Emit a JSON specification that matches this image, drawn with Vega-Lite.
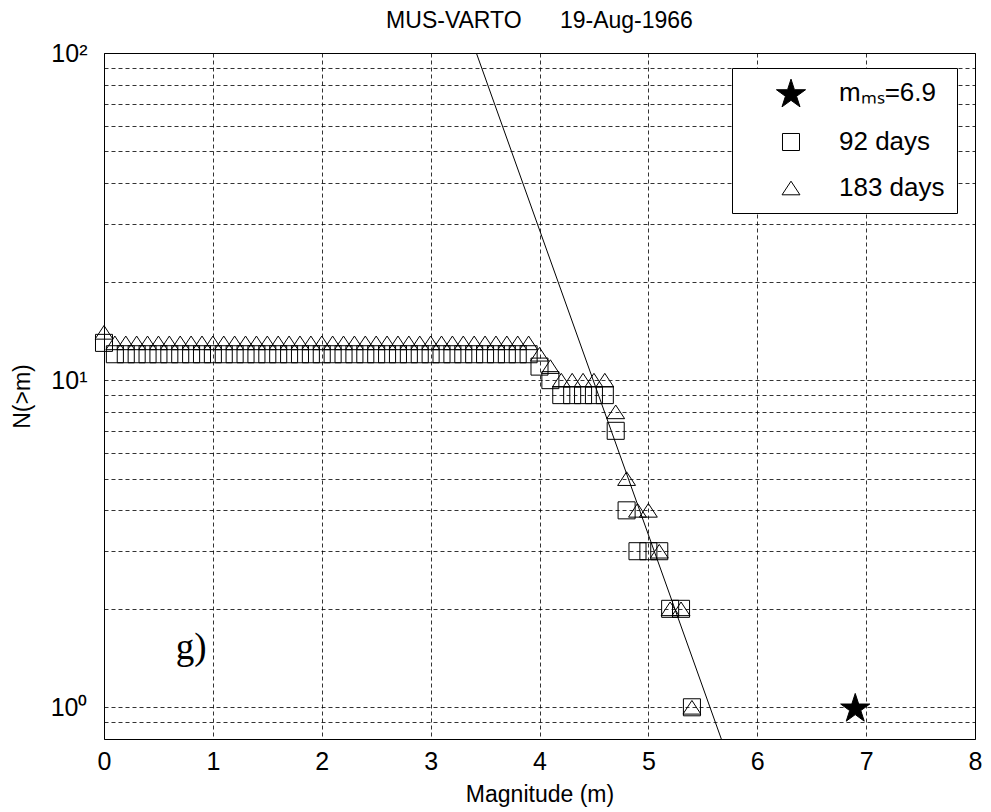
{
  "$schema": "https://vega.github.io/schema/vega-lite/v6.json",
  "width": 871,
  "height": 686,
  "autosize": {"type": "none"},
  "padding": {"left": 104, "top": 53, "right": 16, "bottom": 73},
  "background": "white",
  "config": {
    "font": "Liberation Sans",
    "view": {"stroke": "black", "strokeWidth": 1},
    "axis": {
      "labelFont": "Liberation Sans",
      "titleFont": "Liberation Sans",
      "labelFontSize": 25,
      "titleFontSize": 23,
      "titleFontWeight": "normal",
      "labelColor": "black",
      "titleColor": "black",
      "domain": false,
      "ticks": false,
      "gridColor": "black",
      "gridDash": [4, 3],
      "gridOpacity": 0.8,
      "gridWidth": 1
    },
    "legend": {
      "labelFont": "Liberation Sans",
      "labelFontSize": 26,
      "labelColor": "black",
      "strokeColor": "black",
      "strokeWidth": 1,
      "fillColor": "white",
      "padding": 12,
      "rowPadding": 20,
      "symbolOffset": 34,
      "labelOffset": 35,
      "symbolSize": 290,
      "symbolStrokeColor": "black",
      "symbolStrokeWidth": 1,
      "orient": "none",
      "legendX": 628,
      "legendY": 15
    }
  },
  "title": {
    "text": "MUS-VARTO\u00a0\u00a0\u00a0\u00a0\u00a0\u00a019-Aug-1966",
    "font": "Liberation Sans",
    "fontSize": 23,
    "fontWeight": "normal",
    "color": "black",
    "offset": 8
  },
  "datasets": {
    "fit": [
      {"m": 3.42, "n": 100},
      {"m": 5.67, "n": 0.8}
    ],
    "panel": [
      {"m": 0.8, "n": 1.52, "label": "g)"}
    ],
    "counts": [
      {"series": "mainshock", "m": 6.9, "n": 1},
      {"series": "92 days", "m": 0.0, "n": 13},
      {"series": "92 days", "m": 0.1, "n": 12},
      {"series": "92 days", "m": 0.2, "n": 12},
      {"series": "92 days", "m": 0.3, "n": 12},
      {"series": "92 days", "m": 0.4, "n": 12},
      {"series": "92 days", "m": 0.5, "n": 12},
      {"series": "92 days", "m": 0.6, "n": 12},
      {"series": "92 days", "m": 0.7, "n": 12},
      {"series": "92 days", "m": 0.8, "n": 12},
      {"series": "92 days", "m": 0.9, "n": 12},
      {"series": "92 days", "m": 1.0, "n": 12},
      {"series": "92 days", "m": 1.1, "n": 12},
      {"series": "92 days", "m": 1.2, "n": 12},
      {"series": "92 days", "m": 1.3, "n": 12},
      {"series": "92 days", "m": 1.4, "n": 12},
      {"series": "92 days", "m": 1.5, "n": 12},
      {"series": "92 days", "m": 1.6, "n": 12},
      {"series": "92 days", "m": 1.7, "n": 12},
      {"series": "92 days", "m": 1.8, "n": 12},
      {"series": "92 days", "m": 1.9, "n": 12},
      {"series": "92 days", "m": 2.0, "n": 12},
      {"series": "92 days", "m": 2.1, "n": 12},
      {"series": "92 days", "m": 2.2, "n": 12},
      {"series": "92 days", "m": 2.3, "n": 12},
      {"series": "92 days", "m": 2.4, "n": 12},
      {"series": "92 days", "m": 2.5, "n": 12},
      {"series": "92 days", "m": 2.6, "n": 12},
      {"series": "92 days", "m": 2.7, "n": 12},
      {"series": "92 days", "m": 2.8, "n": 12},
      {"series": "92 days", "m": 2.9, "n": 12},
      {"series": "92 days", "m": 3.0, "n": 12},
      {"series": "92 days", "m": 3.1, "n": 12},
      {"series": "92 days", "m": 3.2, "n": 12},
      {"series": "92 days", "m": 3.3, "n": 12},
      {"series": "92 days", "m": 3.4, "n": 12},
      {"series": "92 days", "m": 3.5, "n": 12},
      {"series": "92 days", "m": 3.6, "n": 12},
      {"series": "92 days", "m": 3.7, "n": 12},
      {"series": "92 days", "m": 3.8, "n": 12},
      {"series": "92 days", "m": 3.9, "n": 12},
      {"series": "92 days", "m": 4.0, "n": 11},
      {"series": "92 days", "m": 4.1, "n": 10},
      {"series": "92 days", "m": 4.2, "n": 9},
      {"series": "92 days", "m": 4.3, "n": 9},
      {"series": "92 days", "m": 4.4, "n": 9},
      {"series": "92 days", "m": 4.5, "n": 9},
      {"series": "92 days", "m": 4.6, "n": 9},
      {"series": "92 days", "m": 4.7, "n": 7},
      {"series": "92 days", "m": 4.8, "n": 4},
      {"series": "92 days", "m": 4.9, "n": 3},
      {"series": "92 days", "m": 5.0, "n": 3},
      {"series": "92 days", "m": 5.1, "n": 3},
      {"series": "92 days", "m": 5.2, "n": 2},
      {"series": "92 days", "m": 5.3, "n": 2},
      {"series": "92 days", "m": 5.4, "n": 1},
      {"series": "183 days", "m": 0.0, "n": 14},
      {"series": "183 days", "m": 0.1, "n": 13},
      {"series": "183 days", "m": 0.2, "n": 13},
      {"series": "183 days", "m": 0.3, "n": 13},
      {"series": "183 days", "m": 0.4, "n": 13},
      {"series": "183 days", "m": 0.5, "n": 13},
      {"series": "183 days", "m": 0.6, "n": 13},
      {"series": "183 days", "m": 0.7, "n": 13},
      {"series": "183 days", "m": 0.8, "n": 13},
      {"series": "183 days", "m": 0.9, "n": 13},
      {"series": "183 days", "m": 1.0, "n": 13},
      {"series": "183 days", "m": 1.1, "n": 13},
      {"series": "183 days", "m": 1.2, "n": 13},
      {"series": "183 days", "m": 1.3, "n": 13},
      {"series": "183 days", "m": 1.4, "n": 13},
      {"series": "183 days", "m": 1.5, "n": 13},
      {"series": "183 days", "m": 1.6, "n": 13},
      {"series": "183 days", "m": 1.7, "n": 13},
      {"series": "183 days", "m": 1.8, "n": 13},
      {"series": "183 days", "m": 1.9, "n": 13},
      {"series": "183 days", "m": 2.0, "n": 13},
      {"series": "183 days", "m": 2.1, "n": 13},
      {"series": "183 days", "m": 2.2, "n": 13},
      {"series": "183 days", "m": 2.3, "n": 13},
      {"series": "183 days", "m": 2.4, "n": 13},
      {"series": "183 days", "m": 2.5, "n": 13},
      {"series": "183 days", "m": 2.6, "n": 13},
      {"series": "183 days", "m": 2.7, "n": 13},
      {"series": "183 days", "m": 2.8, "n": 13},
      {"series": "183 days", "m": 2.9, "n": 13},
      {"series": "183 days", "m": 3.0, "n": 13},
      {"series": "183 days", "m": 3.1, "n": 13},
      {"series": "183 days", "m": 3.2, "n": 13},
      {"series": "183 days", "m": 3.3, "n": 13},
      {"series": "183 days", "m": 3.4, "n": 13},
      {"series": "183 days", "m": 3.5, "n": 13},
      {"series": "183 days", "m": 3.6, "n": 13},
      {"series": "183 days", "m": 3.7, "n": 13},
      {"series": "183 days", "m": 3.8, "n": 13},
      {"series": "183 days", "m": 3.9, "n": 13},
      {"series": "183 days", "m": 4.0, "n": 12},
      {"series": "183 days", "m": 4.1, "n": 11},
      {"series": "183 days", "m": 4.2, "n": 10},
      {"series": "183 days", "m": 4.3, "n": 10},
      {"series": "183 days", "m": 4.4, "n": 10},
      {"series": "183 days", "m": 4.5, "n": 10},
      {"series": "183 days", "m": 4.6, "n": 10},
      {"series": "183 days", "m": 4.7, "n": 8},
      {"series": "183 days", "m": 4.8, "n": 5},
      {"series": "183 days", "m": 4.9, "n": 4},
      {"series": "183 days", "m": 5.0, "n": 4},
      {"series": "183 days", "m": 5.1, "n": 3},
      {"series": "183 days", "m": 5.2, "n": 2},
      {"series": "183 days", "m": 5.3, "n": 2},
      {"series": "183 days", "m": 5.4, "n": 1}
    ]
  },
  "layer": [
    {
      "data": {"name": "fit"},
      "mark": {"type": "line", "color": "black", "strokeWidth": 1, "clip": true},
      "encoding": {
        "x": {
          "field": "m",
          "type": "quantitative",
          "title": "Magnitude (m)",
          "scale": {"domain": [0, 8], "nice": false, "zero": false},
          "axis": {"values": [0, 1, 2, 3, 4, 5, 6, 7, 8], "format": "d", "labelPadding": 10, "titlePadding": 9, "labelFlush": false}
        },
        "y": {
          "field": "n",
          "type": "quantitative",
          "title": "N(>m)",
          "scale": {"type": "log", "domain": [0.8, 100], "nice": false},
          "axis": {
            "values": [0.8, 0.9, 1, 2, 3, 4, 5, 6, 7, 8, 9, 10, 20, 30, 40, 50, 60, 70, 80, 90, 100],
            "labelExpr": "datum.value == 1 ? '10\u2070' : datum.value == 10 ? '10\u00b9' : datum.value == 100 ? '10\u00b2' : ''",
            "labelPadding": 17,
            "titlePadding": 16,
            "labelFlush": false
          }
        }
      }
    },
    {
      "data": {"name": "panel"},
      "mark": {"type": "text", "font": "Liberation Serif", "fontSize": 37, "color": "black", "align": "center", "baseline": "middle"},
      "encoding": {
        "x": {"field": "m", "type": "quantitative"},
        "y": {"field": "n", "type": "quantitative"},
        "text": {"field": "label"}
      }
    },
    {
      "data": {"name": "counts"},
      "mark": {"type": "point", "filled": true, "strokeWidth": 1, "opacity": 1, "size": 290},
      "encoding": {
        "x": {"field": "m", "type": "quantitative"},
        "y": {"field": "n", "type": "quantitative"},
        "shape": {
          "field": "series",
          "type": "nominal",
          "scale": {
            "domain": ["mainshock", "92 days", "183 days"],
            "range": [
              "M0,-1.628L0.404,-0.384L1.712,-0.384L0.654,0.385L1.058,1.628L0,0.86L-1.058,1.628L-0.654,0.385L-1.712,-0.384L-0.404,-0.384Z",
              "square",
              "M0,-0.8L1.05,0.8L-1.05,0.8Z"
            ]
          },
          "legend": {"title": null, "labelExpr": "datum.label == 'mainshock' ? 'm\u2098\u209b=6.9' : datum.label"}
        },
        "fill": {
          "field": "series",
          "type": "nominal",
          "scale": {"domain": ["mainshock", "92 days", "183 days"], "range": ["black", "transparent", "transparent"]},
          "legend": {"title": null, "labelExpr": "datum.label == 'mainshock' ? 'm\u2098\u209b=6.9' : datum.label"}
        },
        "stroke": {
          "field": "series",
          "type": "nominal",
          "scale": {"domain": ["mainshock", "92 days", "183 days"], "range": ["black", "black", "black"]},
          "legend": {"title": null, "labelExpr": "datum.label == 'mainshock' ? 'm\u2098\u209b=6.9' : datum.label"}
        }
      }
    }
  ]
}
